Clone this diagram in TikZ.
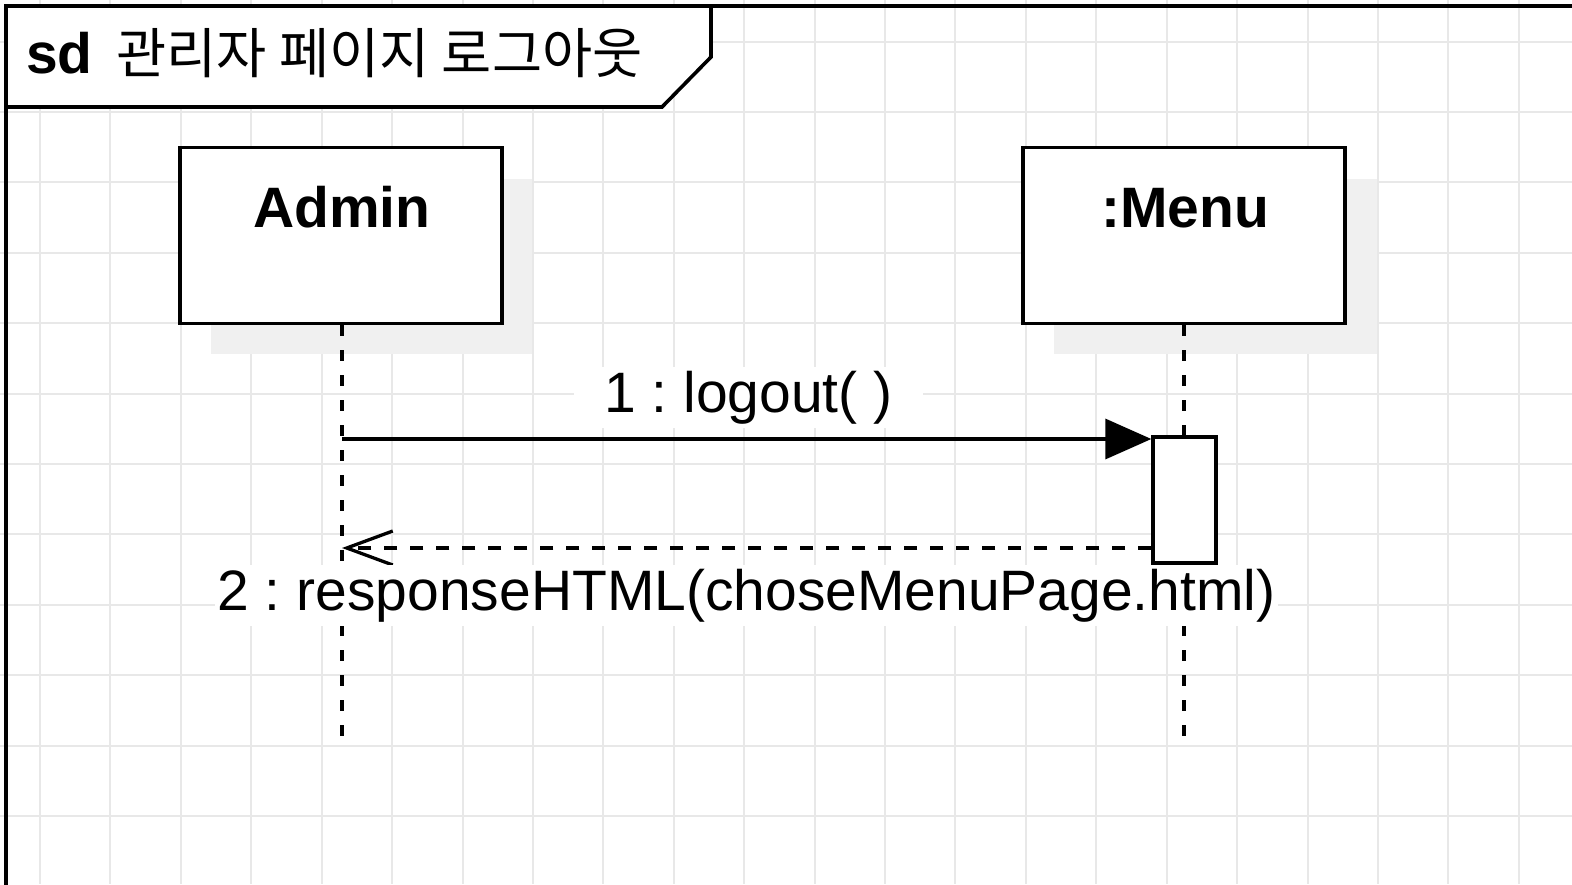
\documentclass[tikz,border=0pt]{standalone}
\usepackage{fontspec}
\setmainfont{Liberation Sans}
\newfontfamily\kr{Noto Sans CJK KR}
\usetikzlibrary{arrows.meta}
\frenchspacing
\begin{document}
\begin{tikzpicture}[x=1pt,y=-1pt,
  lw/.style={line width=3.3pt},
  gridline/.style={line width=2pt, draw=black!9},
  shadowfill/.style={fill=black!6},
  objbox/.style={draw, lw, fill=white, minimum width=322pt, minimum height=176pt, inner sep=0pt},
  objlbl/.style={anchor=base, inner sep=0pt, font=\fontsize{57}{68}\selectfont\bfseries},
  actbox/.style={draw, lw, fill=white, minimum width=63pt, minimum height=126pt, inner sep=0pt},
  lifeline/.style={lw, dash pattern=on 11pt off 14pt},
  msgtxt/.style={anchor=base, fill=white, inner ysep=4pt, font=\fontsize{57}{68}\selectfont},
  callarrow/.style={lw, -{Triangle[length=46pt,width=40pt]}},
  replyarrow/.style={lw, dash pattern=on 13pt off 13pt, -{Straight Barb[length=46pt,width=34pt]}}
]
\useasboundingbox (0,0) rectangle (1572,884);
\clip (0,0) rectangle (1572,884);
\fill[white] (0,0) rectangle (1572,884);
% grid
\foreach \i in {0,...,22} { \draw[gridline] ({40+70.42*\i},0) -- ({40+70.42*\i},884); }
\foreach \j in {0,...,12} { \draw[gridline] (0,{41.5+70.4*\j}) -- (1572,{41.5+70.4*\j}); }
% frame
\draw[line width=3.6pt] (1600,6) -- (6,6) -- (6,900);
\draw[line width=3.6pt, fill=white] (6,6) -- (711,6) -- (711,57) -- (662,107) -- (6,107) -- cycle;
\node (title) [anchor=base west, inner sep=0pt, font=\fontsize{57}{68}\selectfont] at (26,73)
  {\textbf{sd}\hspace{24pt}{\kr\fontsize{54.5}{64}\selectfont 관리자 페이지 로그아웃}};
% shadows
\fill[shadowfill] (211,179) rectangle (532,354);
\fill[shadowfill] (1054,179) rectangle (1377,354);
% objects
\node (admin) [objbox] at (341,235.5) {};
\node (menu) [objbox] at (1184,235.5) {};
\node (adminlbl) [objlbl] at (342,227) {Admin};
\node (menulbl) [objlbl] at (1185,227) {:Menu};
% lifelines
\coordinate (adminend) at (342,737);
\coordinate (menuend) at (1184,737);
\draw[lifeline] (admin.south -| adminend) -- (adminend);
\draw[lifeline] (menu.south -| menuend) -- (menuend);
% activation
\node (act) [actbox] at (1184.5,500) {};
% messages
\coordinate (m1s) at (342,439);
\coordinate (m2e) at (342,548);
\draw[callarrow] (m1s) -- (m1s -| act.west);
\draw[replyarrow] (m2e -| act.west) -- (m2e);
\node (lbl1) [msgtxt, inner xsep=30pt] at (748.5,412) {1 : logout( )};
\node (lbl2) [msgtxt, inner xsep=2pt] at (746.5,610) {2 : responseHTML(choseMenuPage.html)};
\end{tikzpicture}
\end{document}
